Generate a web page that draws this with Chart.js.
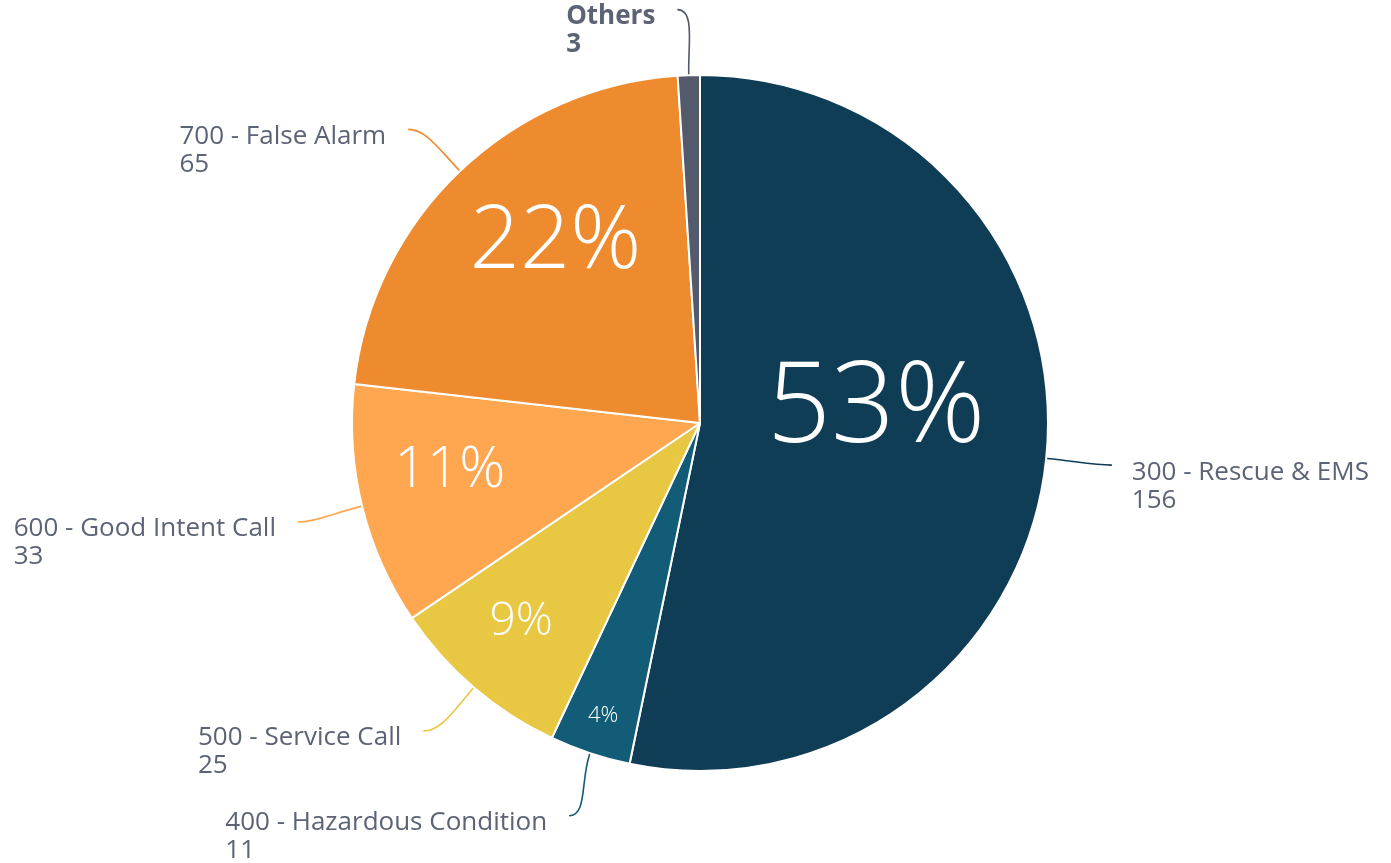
<!DOCTYPE html>
<html>
<head>
<meta charset="utf-8">
<script src="https://cdn.jsdelivr.net/npm/chart.js@4.4.1/dist/chart.umd.min.js"></script>
<style>
  body { margin: 0; background: #fff; }
  #wrap { width: 1391px; height: 863px; }
</style>
</head>
<body>
<div id="wrap"><canvas id="pie" width="1391" height="863"></canvas></div>
<script>
// incident types, clockwise from the top
const categories = ['300 - Rescue & EMS', '400 - Hazardous Condition', '500 - Service Call',
  '600 - Good Intent Call', '700 - False Alarm', 'Others'];
const counts = [156, 11, 25, 33, 65, 3];

const colors = ['#0f3d56', '#135c77', '#e8c743', '#fea650', '#ef8b2f', '#525a6b'];
const textColor = '#5b6375';

// where the % label sits inside each slice: [radius fraction, angle nudge in degrees, font px]
const pctPlace = [[0.51, -12.8, 112], [0.88, 0, 22], [0.76, 2, 46], [0.73, 4, 57], [0.68, 6, 88], [0, 0, 0]];
// small angle nudge (deg) for the outside label ends
const labelNudge = [0, 0, 1.4, 0, -1.2, -1.3];

const total = counts.reduce((a, b) => a + b, 0);

const labelPlugin = {
  id: 'labels',
  afterDatasetsDraw(chart) {
    const ctx = chart.ctx;
    const arcs = chart.getDatasetMeta(0).data;
    arcs.forEach((arc, i) => {
      const mid = (arc.startAngle + arc.endAngle) / 2;
      const r = arc.outerRadius;
      const cx = arc.x, cy = arc.y;

      // percentage inside the slice
      const p = pctPlace[i];
      if (p[2] > 0) {
        const a = mid + p[1] * Math.PI / 180;
        ctx.save();
        ctx.fillStyle = '#fff';
        ctx.font = '300 ' + p[2] + 'px "Open Sans"';
        ctx.textAlign = 'center';
        ctx.textBaseline = 'middle';
        ctx.fillText(Math.round(counts[i] / total * 100) + '%',
          cx + Math.cos(a) * r * p[0], cy + Math.sin(a) * r * p[0] + p[2] * 0.08);
        ctx.restore();
      }

      // leader line
      const side = Math.cos(mid) >= 0 ? 1 : -1;
      const la = mid + labelNudge[i] * Math.PI / 180;
      const x0 = cx + Math.cos(mid) * (r + 1), y0 = cy + Math.sin(mid) * (r + 1);
      const x1 = cx + Math.cos(mid) * (r + 30), y1 = cy + Math.sin(mid) * (r + 30);
      const ex = cx + Math.cos(la) * (r + 66), ey = cy + Math.sin(la) * (r + 66);
      ctx.save();
      ctx.strokeStyle = colors[i];
      ctx.lineWidth = 1.6;
      ctx.beginPath();
      ctx.moveTo(x0, y0);
      ctx.bezierCurveTo(x1, y1, ex - side * 18, ey, ex, ey);
      ctx.stroke();

      // outside label, two lines
      const bold = i === counts.length - 1;
      ctx.font = (bold ? 'bold ' : '') + '26px "Open Sans"';
      ctx.fillStyle = textColor;
      ctx.textAlign = 'left';
      ctx.textBaseline = 'middle';
      const w = ctx.measureText(categories[i]).width;
      const tx = side > 0 ? ex + 20 : ex - 22 - w;
      ctx.fillText(categories[i], tx, ey + 7);
      ctx.fillText(String(counts[i]), tx, ey + 35);
      ctx.restore();
    });
  }
};

new Chart(document.getElementById('pie'), {
  type: 'pie',
  data: {
    labels: categories,
    datasets: [{
      data: counts,
      backgroundColor: colors,
      borderColor: '#fff',
      borderWidth: 2
    }]
  },
  options: {
    responsive: false,
    animation: false,
    radius: 348,
    layout: { padding: { left: 9, top: 0, bottom: 17, right: 0 } },
    plugins: {
      legend: { display: false },
      tooltip: { enabled: false }
    }
  },
  plugins: [labelPlugin]
});
</script>
</body>
</html>
